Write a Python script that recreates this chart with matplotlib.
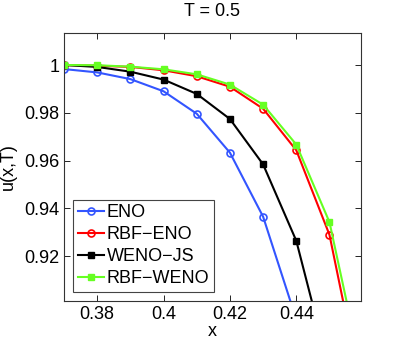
import matplotlib
matplotlib.use('Agg')
import matplotlib.pyplot as plt

plt.rcParams['font.family'] = ['Liberation Sans', 'DejaVu Sans']

# grid points
x = [0.37, 0.38, 0.39, 0.40, 0.41, 0.42, 0.43, 0.44, 0.45, 0.46]

# solution values (last ones fall below the visible window)
eno = [0.9983, 0.9969, 0.9941, 0.9890, 0.9796, 0.9633, 0.9365, 0.8935, 0.84, 0.78]
rbf_eno = [1.0000, 0.9997, 0.9992, 0.9978, 0.9953, 0.9909, 0.9817, 0.9643, 0.9289, 0.8613]
weno_js = [1.0000, 0.9992, 0.9972, 0.9939, 0.9879, 0.9774, 0.9584, 0.9264, 0.8724, 0.80]
rbf_weno = [1.0000, 0.9999, 0.9993, 0.9982, 0.9961, 0.9918, 0.9834, 0.9667, 0.9342, 0.8699]

labels = ['ENO', 'RBF\u2212ENO', 'WENO\u2212JS', 'RBF\u2212WENO']
colors = ['#3355ff', '#ff0000', '#000000', '#66ff22']
markers = ['o', 'o', 's', 's']

fig = plt.figure(figsize=(3.99, 3.44), dpi=100)
ax = fig.add_axes([64 / 399, 43 / 344, 297 / 399, 268 / 344])

for y, lab, c, m in zip([eno, rbf_eno, weno_js, rbf_weno], labels, colors, markers):
    if m == 'o':
        ax.plot(x, y, color=c, marker=m, markersize=5, markerfacecolor='none',
                markeredgewidth=1.2, linewidth=1.5, label=lab)
    else:
        ax.plot(x, y, color=c, marker=m, markersize=5, linewidth=1.5, label=lab)

ax.set_xlim(0.37, 0.4595)
ax.set_ylim(0.9012, 1.0134)
ax.set_xticks([0.38, 0.40, 0.42, 0.44])
ax.set_xticklabels(['0.38', '0.4', '0.42', '0.44'])
ax.set_yticks([0.92, 0.94, 0.96, 0.98, 1.0])
ax.set_yticklabels(['0.92', '0.94', '0.96', '0.98', '1'])
ax.tick_params(direction='in', top=True, right=True, labelsize=13, length=4, width=0.6)
for s in ax.spines.values():
    s.set_linewidth(0.8)
    s.set_color('#333333')

ax.set_title('T = 0.5', fontsize=13, pad=12)
ax.set_xlabel('x', fontsize=13, labelpad=0)
ax.set_ylabel('u(x,T)', fontsize=13, labelpad=5)

leg = ax.legend(loc='lower left', fontsize=13, handlelength=1.45, handletextpad=0.15,
                borderpad=0.25, labelspacing=0.28, borderaxespad=0.5,
                fancybox=False, edgecolor='#444444', framealpha=1)
leg.get_frame().set_linewidth(0.8)

fig.savefig('out.png', dpi=100)
